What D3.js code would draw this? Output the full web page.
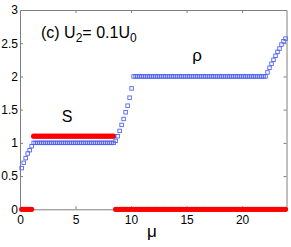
<!DOCTYPE html>
<html>
<head>
<meta charset="utf-8">
<script src="https://cdn.jsdelivr.net/npm/d3@7"></script>
<style>
  body { margin: 0; background: #fff; }
  svg { display: block; font-family: "Liberation Sans", Arial, sans-serif; }
  .axis path, .axis line { stroke: #808080; }
  .axis text { fill: #000; font-size: 12px; }
</style>
</head>
<body>
<svg id="chart"></svg>
<script>
// chemical potential grid
var mu = [0.15, 0.33, 0.51, 0.69, 0.87, 1.05, 1.23, 1.41, 1.59, 1.77,
    1.95, 2.13, 2.31, 2.49, 2.67, 2.85, 3.03, 3.21, 3.39, 3.57,
    3.75, 3.93, 4.11, 4.29, 4.47, 4.65, 4.83, 5.01, 5.19, 5.37,
    5.55, 5.73, 5.91, 6.09, 6.27, 6.45, 6.63, 6.81, 6.99, 7.17,
    7.35, 7.53, 7.71, 7.89, 8.07, 8.25, 8.43, 8.61, 8.79, 8.97,
    9.15, 9.33, 9.51, 9.69, 9.87, 10.05, 10.23, 10.41, 10.59, 10.77,
    10.95, 11.13, 11.31, 11.49, 11.67, 11.85, 12.03, 12.21, 12.39, 12.57,
    12.75, 12.93, 13.11, 13.29, 13.47, 13.65, 13.83, 14.01, 14.19, 14.37,
    14.55, 14.73, 14.91, 15.09, 15.27, 15.45, 15.63, 15.81, 15.99, 16.17,
    16.35, 16.53, 16.71, 16.89, 17.07, 17.25, 17.43, 17.61, 17.79, 17.97,
    18.15, 18.33, 18.51, 18.69, 18.87, 19.05, 19.23, 19.41, 19.59, 19.77,
    19.95, 20.13, 20.31, 20.49, 20.67, 20.85, 21.03, 21.21, 21.39, 21.57,
    21.75, 21.93, 22.11, 22.29, 22.47, 22.65, 22.83, 23.01, 23.19, 23.37,
    23.55, 23.73, 23.91];

// density rho (blue squares)
var rho = [0.62, 0.70, 0.77, 0.84, 0.89, 0.95, 1, 1, 1, 1,
    1, 1, 1, 1, 1, 1, 1, 1, 1, 1,
    1, 1, 1, 1, 1, 1, 1, 1, 1, 1,
    1, 1, 1, 1, 1, 1, 1, 1, 1, 1,
    1, 1, 1, 1, 1, 1, 1, 1.03, 1.10, 1.18,
    1.27, 1.36, 1.46, 1.56, 1.68, 1.82, 2, 2, 2, 2,
    2, 2, 2, 2, 2, 2, 2, 2, 2, 2,
    2, 2, 2, 2, 2, 2, 2, 2, 2, 2,
    2, 2, 2, 2, 2, 2, 2, 2, 2, 2,
    2, 2, 2, 2, 2, 2, 2, 2, 2, 2,
    2, 2, 2, 2, 2, 2, 2, 2, 2, 2,
    2, 2, 2, 2, 2, 2, 2, 2, 2, 2,
    2, 2, 2, 2.06, 2.13, 2.19, 2.25, 2.31, 2.37, 2.42,
    2.48, 2.53, 2.57];

// order parameter S (red dots)
var S = [0, 0, 0, 0, 0, 0, 1.1, 1.1, 1.1, 1.1,
    1.1, 1.1, 1.1, 1.1, 1.1, 1.1, 1.1, 1.1, 1.1, 1.1,
    1.1, 1.1, 1.1, 1.1, 1.1, 1.1, 1.1, 1.1, 1.1, 1.1,
    1.1, 1.1, 1.1, 1.1, 1.1, 1.1, 1.1, 1.1, 1.1, 1.1,
    1.1, 1.1, 1.1, 1.1, 1.1, 1.1, 1.1, 0, 0, 0,
    0, 0, 0, 0, 0, 0, 0, 0, 0, 0,
    0, 0, 0, 0, 0, 0, 0, 0, 0, 0,
    0, 0, 0, 0, 0, 0, 0, 0, 0, 0,
    0, 0, 0, 0, 0, 0, 0, 0, 0, 0,
    0, 0, 0, 0, 0, 0, 0, 0, 0, 0,
    0, 0, 0, 0, 0, 0, 0, 0, 0, 0,
    0, 0, 0, 0, 0, 0, 0, 0, 0, 0,
    0, 0, 0, 0, 0, 0, 0, 0, 0, 0,
    0, 0, 0];

var xTicks = [0, 5, 10, 15, 20],
    yTicks = [0, 0.5, 1, 1.5, 2, 2.5, 3];

var width = 291,
    height = 247,
    margin = {top: 10, right: 4.5, bottom: 37.7, left: 20},
    innerwidth = width - margin.left - margin.right,
    innerheight = height - margin.top - margin.bottom;

var xScale = d3.scaleLinear().domain([0, 24]).range([0, innerwidth]);
var yScale = d3.scaleLinear().domain([0, 3]).range([innerheight, 0]);

var svg = d3.select("#chart")
    .attr("width", width)
    .attr("height", height);

var g = svg.append("g")
    .attr("transform", "translate(" + margin.left + "," + margin.top + ")");

// axes box, ticks pointing inward
g.append("g")
    .attr("class", "x axis")
    .attr("transform", "translate(0," + innerheight + ")")
    .call(d3.axisBottom(xScale).tickValues(xTicks).tickSizeInner(-3).tickSizeOuter(0).tickPadding(6).tickFormat(d3.format("d")));
g.append("g")
    .attr("class", "axis")
    .call(d3.axisTop(xScale).tickValues(xTicks).tickSizeInner(-3).tickSizeOuter(0).tickFormat(""));
g.append("g")
    .attr("class", "y axis")
    .call(d3.axisLeft(yScale).tickValues(yTicks).tickSizeInner(-3).tickSizeOuter(0).tickPadding(2).tickFormat(function(d) { return d; }));
g.append("g")
    .attr("class", "axis")
    .attr("transform", "translate(" + innerwidth + ",0)")
    .call(d3.axisRight(yScale).tickValues(yTicks).tickSizeInner(-3).tickSizeOuter(0).tickFormat(""));

// hide the ticks that sit on the corners
g.selectAll(".axis .tick line").filter(function(d) { return d === 0 || d === 3; }).remove();

var plot = g.append("g");

plot.selectAll(".s").data(mu).enter().append("circle")
    .attr("class", "s")
    .attr("cx", function(d) { return xScale(d); })
    .attr("cy", function(d, i) { return yScale(S[i]); })
    .attr("r", 2.6)
    .attr("fill", "#ff0000");

var sq = 3.5;
plot.selectAll(".rho").data(mu).enter().append("rect")
    .attr("class", "rho")
    .attr("x", function(d) { return xScale(d) - sq / 2; })
    .attr("y", function(d, i) { return yScale(rho[i]) - sq / 2; })
    .attr("width", sq)
    .attr("height", sq)
    .attr("fill", "none")
    .attr("stroke", "#4a5cf0")
    .attr("stroke-width", 0.85);

// labels
var title = svg.append("text")
    .attr("x", 41)
    .attr("y", 38)
    .attr("font-size", "16px")
    .attr("fill", "#000");
title.append("tspan").text("(c) U");
title.append("tspan").attr("font-size", "12px").attr("dy", 4).text("2");
title.append("tspan").attr("dy", -4).text("= 0.1U");
title.append("tspan").attr("font-size", "12px").attr("dy", 4).text("0");

svg.append("text")
    .attr("x", 67)
    .attr("y", 122)
    .attr("text-anchor", "middle")
    .attr("font-size", "16px")
    .text("S");

svg.append("text")
    .attr("x", 197)
    .attr("y", 61)
    .attr("text-anchor", "middle")
    .attr("font-size", "17px")
    .text("ρ");

svg.append("text")
    .attr("x", 152)
    .attr("y", 237)
    .attr("text-anchor", "middle")
    .attr("font-size", "17px")
    .text("μ");
</script>
</body>
</html>
